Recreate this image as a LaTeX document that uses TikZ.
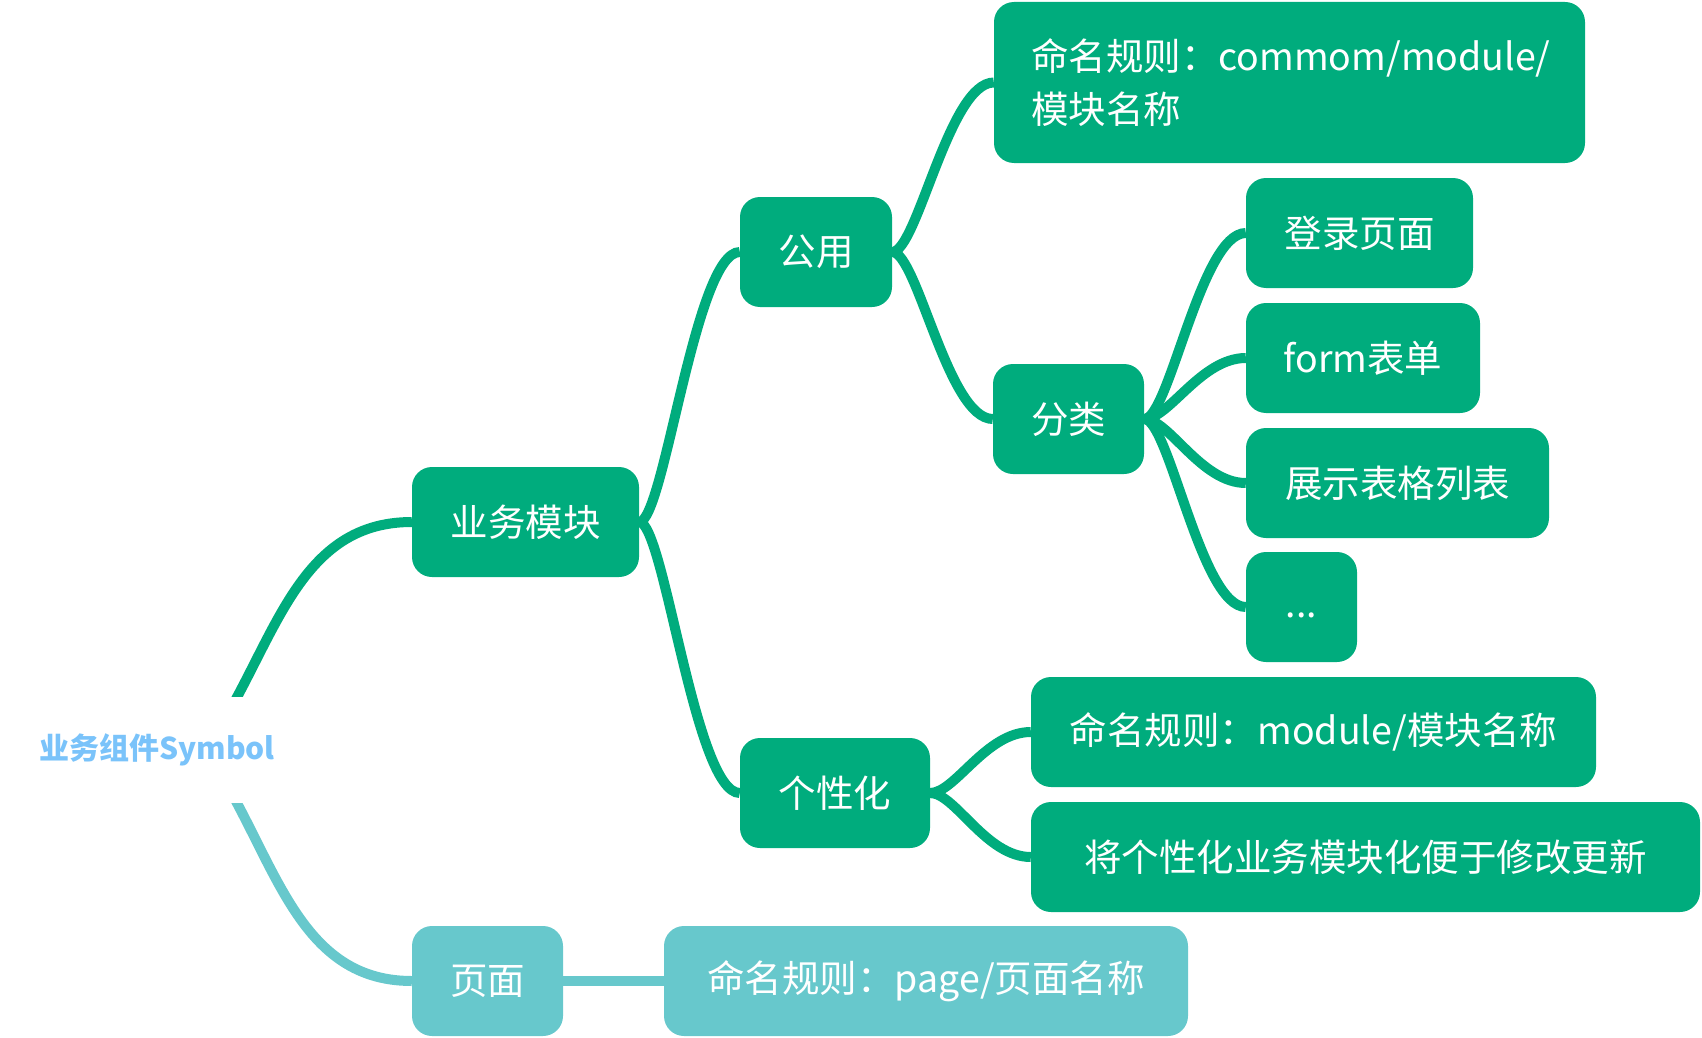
\documentclass[tikz,border=0pt]{standalone}
\usepackage{fontspec}
\setmainfont{Noto Sans CJK SC}
\usetikzlibrary{backgrounds}

\definecolor{mgreen}{HTML}{00AC7D}
\definecolor{mteal}{HTML}{67C8CC}
\definecolor{mblue}{HTML}{7AC3FA}

\tikzset{
  topic/.style={fill=mgreen, text=white, rounded corners=20pt, minimum height=110pt,
    inner xsep=12pt, font=\fontsize{37.5pt}{53pt}\selectfont},
  pagetopic/.style={topic, fill=mteal},
  branch/.style={draw=mgreen, line width=10pt},
  pagebranch/.style={branch, draw=mteal},
}

\begin{document}
\begin{tikzpicture}[x=1pt,y=-1pt]
        \useasboundingbox (0,0) rectangle (1702,1038);

        \node[topic, minimum width=227pt] (bm) at (525.5,522) {业务模块}; %business
        \node[topic, minimum width=152pt] (gy) at (816,252) {公用}; %common
        \node[topic, text width=517pt, align=left, inner xsep=37pt, minimum height=161pt] (tb) at (1289.5,82.5) {命名规则：commom/module/\\模块名称}; %rule
        \node[topic, minimum width=151pt] (fl) at (1068.5,419) {分类}; %sort
        \node[topic, minimum width=227pt] (dl) at (1359.5,233) {登录页面}; %login
        \node[topic, minimum width=234pt] (fm) at (1363,358) {form表单}; %form
        \node[topic, minimum width=303pt] (zs) at (1397.5,483) {展示表格列表}; %table
        \node[topic, minimum width=111pt] (et) at (1301.5,607) {\strut...}; %more
        \node[topic, minimum width=190pt] (gx) at (835,793) {个性化}; %custom
        \node[topic, minimum width=565pt] (mk) at (1313.5,732) {命名规则：module/模块名称}; %rule
        \node[topic, minimum width=669pt] (jg) at (1365.5,857) {将个性化业务模块化便于修改更新}; %note

        \node[pagetopic, minimum width=151pt] (ym) at (487.5,981) {页面}; %page
        \node[pagetopic, minimum width=524pt] (pn) at (926,981) {命名规则：page/页面名称}; %rule

        \node[fill=white, text=mblue, font=\bfseries\fontsize{30pt}{36pt}\selectfont,
              minimum height=106pt, inner xsep=8pt] (root) at (157,750) {业务组件Symbol}; %root
        \coordinate (rc) at (205,750);

        \begin{scope}[on background layer]
                \draw[branch] (rc) .. controls +(69,-98) and +(-120,0) .. (bm.west);
                \draw[pagebranch] (rc) .. controls +(69,98) and +(-120,0) .. (ym.west);

                \draw[branch] (bm.east) .. controls +(25,0) and +(-45,0) .. (gy.west);
                \draw[branch] (bm.east) .. controls +(25,0) and +(-45,0) .. (gx.west);

                \draw[branch] (gy.east) .. controls +(25,0) and +(-45,0) .. (tb.west);
                \draw[branch] (gy.east) .. controls +(25,0) and +(-45,0) .. (fl.west);

                \draw[branch] (fl.east) .. controls +(25,0) and +(-45,0) .. (dl.west);
                \draw[branch] (fl.east) .. controls +(25,0) and +(-45,0) .. (fm.west);
                \draw[branch] (fl.east) .. controls +(25,0) and +(-45,0) .. (zs.west);
                \draw[branch] (fl.east) .. controls +(25,0) and +(-45,0) .. (et.west);

                \draw[branch] (gx.east) .. controls +(25,0) and +(-45,0) .. (mk.west);
                \draw[branch] (gx.east) .. controls +(25,0) and +(-45,0) .. (jg.west);

                \draw[pagebranch] (ym.east) -- (pn.west);
        \end{scope}
\end{tikzpicture}
\end{document}
